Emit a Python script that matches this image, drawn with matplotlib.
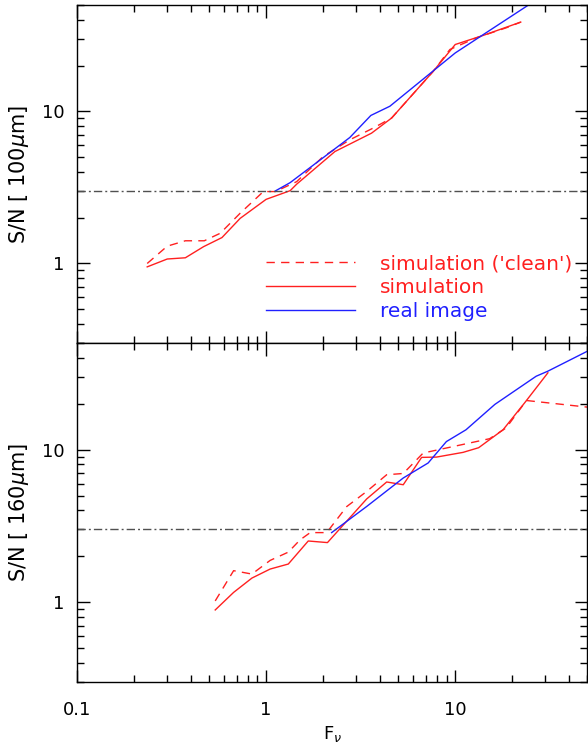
import numpy as np
import matplotlib
matplotlib.use("Agg")
import matplotlib.pyplot as plt
from matplotlib.ticker import LogLocator, FixedLocator, NullFormatter, FuncFormatter

# ---- DATA: 100 micron panel ---- #
top_clean_x = [0.235, 0.30, 0.374, 0.471, 0.572, 0.729, 0.967, 1.12, 1.45, 2.0, 2.77, 3.68, 4.61, 7.64, 9.37, 12.9, 18.6, 22.2]
top_clean_y = [1.00, 1.30, 1.41, 1.41, 1.58, 2.14, 2.97, 2.97, 3.45, 5.04, 6.5, 7.76, 9.04, 18.3, 25.5, 30.4, 35.4, 38.6]

top_sim_x = [0.235, 0.30, 0.374, 0.467, 0.584, 0.729, 1.0, 1.34, 1.45, 2.31, 3.61, 4.61, 7.64, 10.0, 14.0, 22.2]
top_sim_y = [0.95, 1.07, 1.09, 1.29, 1.48, 1.98, 2.64, 3.01, 3.32, 5.44, 7.19, 9.04, 18.3, 27.5, 31.5, 38.6]

top_real_x = [1.12, 1.34, 2.27, 2.77, 3.58, 4.51, 10.0, 25.0]
top_real_y = [3.0, 3.40, 5.58, 6.73, 9.40, 10.8, 24.2, 51.0]

# ---- DATA: 160 micron panel ---- #
bot_clean_x = [0.538, 0.673, 0.841, 1.05, 1.31, 1.51, 1.71, 2.09, 2.67, 3.40, 4.34, 5.31, 6.77, 15.2, 18.6, 23.8, 50.0]
bot_clean_y = [1.02, 1.61, 1.53, 1.88, 2.13, 2.56, 2.86, 2.86, 4.24, 5.32, 6.85, 6.98, 9.51, 11.8, 13.9, 21.0, 19.0]

bot_sim_x = [0.538, 0.673, 0.841, 1.05, 1.31, 1.67, 2.11, 3.40, 4.34, 5.31, 6.64, 7.96, 11.0, 13.3, 17.9, 23.3, 30.9]
bot_sim_y = [0.89, 1.16, 1.44, 1.65, 1.78, 2.52, 2.46, 4.75, 6.14, 5.89, 8.9, 8.94, 9.6, 10.3, 13.5, 20.3, 31.9]

bot_real_x = [2.22, 3.40, 5.31, 7.19, 8.98, 11.4, 16.2, 26.8, 30.9, 50.0]
bot_real_y = [2.86, 4.24, 6.52, 8.18, 11.3, 13.5, 19.8, 30.3, 32.7, 44.2]

threshold = 3.0
xlim = (0.1, 50)
ylim = (0.3, 50)

# ---- PLOT ---- #
plt.rcParams["font.family"] = "DejaVu Sans"
plt.rcParams["font.size"] = 13
plt.rcParams["mathtext.fontset"] = "dejavusans"

fig = plt.figure(figsize=(5.88, 7.47), dpi=100)
ax1 = fig.add_axes([0.131, 0.5408, 0.868, 0.4525])
ax2 = fig.add_axes([0.131, 0.087, 0.868, 0.4538])

dash = (0, (6, 4.5))
dashdot = (0, (6, 2.2, 1.4, 2.2))
red = "#ff2020"
blue = "#2020ff"

def fmt(v, pos):
    return "%g" % v

for ax, cx, cy, sx, sy, rx, ry, lab in [
    (ax1, top_clean_x, top_clean_y, top_sim_x, top_sim_y, top_real_x, top_real_y, r"S/N [ 100$\mu$m]"),
    (ax2, bot_clean_x, bot_clean_y, bot_sim_x, bot_sim_y, bot_real_x, bot_real_y, r"S/N [ 160$\mu$m]"),
]:
    ax.set_xscale("log")
    ax.set_yscale("log")
    ax.plot(cx, cy, color=red, lw=1, linestyle=dash, label="simulation ('clean')")
    ax.plot(sx, sy, color=red, lw=1, label="simulation")
    ax.plot(rx, ry, color=blue, lw=1, label="real image")
    ax.axhline(threshold, color="#505050", lw=1, linestyle=dashdot)
    ax.set_xlim(*xlim)
    ax.set_ylim(*ylim)
    ax.set_ylabel(lab, fontsize=15)
    ax.yaxis.set_label_coords(-0.09, 0.5)
    ax.yaxis.set_major_locator(FixedLocator([1, 10]))
    ax.yaxis.set_major_formatter(FuncFormatter(fmt))
    ax.yaxis.set_minor_locator(LogLocator(base=10, subs=np.arange(2, 10)))
    ax.yaxis.set_minor_formatter(NullFormatter())
    ax.xaxis.set_major_locator(FixedLocator([0.1, 1, 10]))
    ax.xaxis.set_major_formatter(FuncFormatter(fmt))
    ax.xaxis.set_minor_locator(LogLocator(base=10, subs=np.arange(2, 10)))
    ax.xaxis.set_minor_formatter(NullFormatter())
    ax.tick_params(which="both", direction="in", top=True, right=True, width=1)
    ax.tick_params(which="major", length=9)
    ax.tick_params(which="minor", length=5)
    ax.tick_params(axis="x", which="major", pad=14)
    ax.tick_params(axis="y", which="major", pad=9)
    for s in ax.spines.values():
        s.set_linewidth(1)

ax1.tick_params(labelbottom=False)
ax2.set_xlabel(r"F$_\nu$", labelpad=3)

ax1.legend(loc="upper left", bbox_to_anchor=(0.37, 0.262), frameon=False,
           fontsize=14.5, handlelength=4.42, handletextpad=1.24, labelspacing=0.24,
           borderpad=0, borderaxespad=0, labelcolor="linecolor")

plt.savefig("out.png", dpi=100)
